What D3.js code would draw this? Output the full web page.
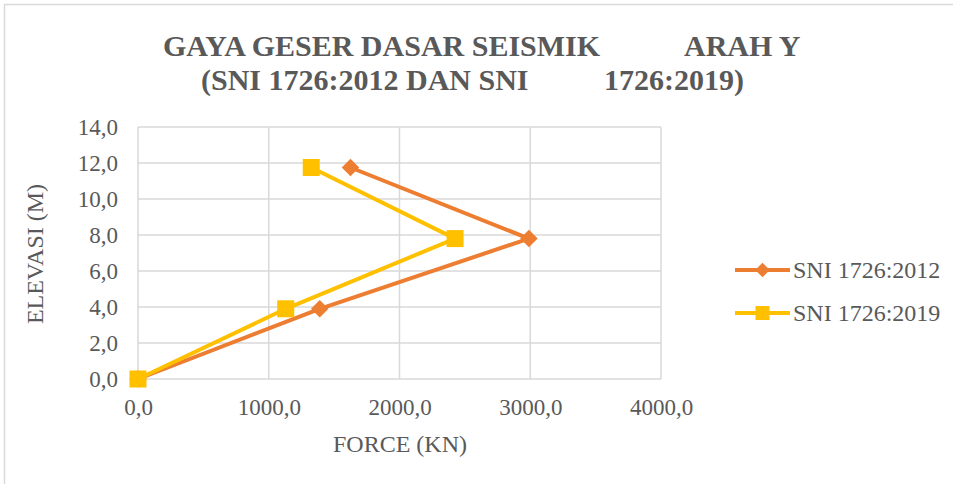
<!DOCTYPE html>
<html>
<head>
<meta charset="utf-8">
<script src="https://cdn.jsdelivr.net/npm/d3@7"></script>
<style>
  body { margin: 0; background: #fff; }
</style>
</head>
<body>
<svg id="chart" width="953" height="484"></svg>
<script>
// elevations (m) and base shear (kN)
let elevasi = [0, 3.9, 7.8, 11.75]
let sni_2012 = [0, 1390, 2990, 1625]
let sni_2019 = [0, 1130, 2425, 1325]
let series_names = ["SNI 1726:2012", "SNI 1726:2019"]
let x_ticks = [0, 1000, 2000, 3000, 4000]
let y_ticks = [0, 2, 4, 6, 8, 10, 12, 14]

let colors = ["#ED7D31", "#FFC000"]
let serif = "'Liberation Serif', 'Times New Roman', Times, 'DejaVu Serif', serif"
let fmt = d => d3.format(".1f")(d).replace(".", ",")

function make_scales() {
  return {
    x: d3.scaleLinear().domain([0, 4000]).range([138, 661]),
    y: d3.scaleLinear().domain([0, 14]).range([379, 127])
  }
}

function draw_frame(svg) {
  svg.append("rect")
    .attr("x", 4.5).attr("y", 4.5)
    .attr("width", 1000).attr("height", 1000)
    .attr("fill", "none")
    .attr("stroke", "#d9d9d9")
    .attr("stroke-width", 1.5)

  // title, Excel left the odd spacing in it
  let title = svg.append("g")
    .attr("font-weight", "bold")
    .attr("font-size", 30)
  title.append("text").attr("x", 163).attr("y", 56).text("GAYA GESER DASAR SEISMIK")
  title.append("text").attr("x", 684).attr("y", 56).text("ARAH Y")
  title.append("text").attr("x", 201).attr("y", 90).text("(SNI 1726:2012 DAN SNI")
  title.append("text").attr("x", 604).attr("y", 90).text("1726:2019)")
}

function draw_axes(svg, scales) {
  let grid = svg.append("g").attr("stroke", "#d9d9d9").attr("stroke-width", 1.5)
  grid.selectAll("line.h")
    .data(y_ticks).enter()
    .append("line")
    .attr("x1", scales.x(0)).attr("x2", scales.x(4000))
    .attr("y1", d => scales.y(d)).attr("y2", d => scales.y(d))
  grid.selectAll("line.v")
    .data(x_ticks).enter()
    .append("line")
    .attr("x1", d => scales.x(d)).attr("x2", d => scales.x(d))
    .attr("y1", scales.y(0)).attr("y2", scales.y(14))

  svg.append("g")
    .attr("transform", `translate(0,${scales.y(0)})`)
    .call(d3.axisBottom(scales.x).tickValues(x_ticks).tickFormat(fmt).tickSize(0).tickPadding(20))
    .call(g => g.select(".domain").remove())
    .attr("font-family", serif)
    .attr("font-size", 23)
    .selectAll("text").attr("fill", "#595959")

  svg.append("g")
    .attr("transform", `translate(${scales.x(0)},0)`)
    .call(d3.axisLeft(scales.y).tickValues(y_ticks).tickFormat(fmt).tickSize(0).tickPadding(20))
    .call(g => g.select(".domain").remove())
    .attr("font-family", serif)
    .attr("font-size", 23)
    .selectAll("text").attr("fill", "#595959")

  svg.append("text")
    .attr("x", 400).attr("y", 452)
    .attr("text-anchor", "middle")
    .attr("font-size", 24)
    .text("FORCE (KN)")

  svg.append("text")
    .attr("transform", "translate(43,254) rotate(-90)")
    .attr("text-anchor", "middle")
    .attr("font-size", 24)
    .text("ELEVASI (M)")
}

function marker(sel, i, size) {
  if (i == 0) {
    sel.append("path")
      .attr("d", d3.symbol(d3.symbolDiamond2, size * size * 0.6)())
      .attr("fill", colors[0])
  } else {
    sel.append("rect")
      .attr("x", -size / 2).attr("y", -size / 2)
      .attr("width", size).attr("height", size)
      .attr("fill", colors[1])
  }
}

function draw_series(svg, scales) {
  let all = [sni_2012, sni_2019]
  let line = d3.line()
    .x(d => scales.x(d[0]))
    .y(d => scales.y(d[1]))

  all.forEach((vals, i) => {
    let pts = vals.map((v, j) => [v, elevasi[j]])
    let g = svg.append("g")
    g.append("path")
      .attr("d", line(pts))
      .attr("fill", "none")
      .attr("stroke", colors[i])
      .attr("stroke-width", 4)
      .attr("stroke-linejoin", "round")
    g.selectAll("g.pt")
      .data(pts).enter()
      .append("g")
      .attr("transform", d => `translate(${scales.x(d[0])},${scales.y(d[1])})`)
      .each(function() { marker(d3.select(this), i, i == 0 ? 18 : 17) })
  })
}

function draw_legend(svg) {
  let leg = svg.append("g")
    .selectAll("g")
    .data(series_names).enter()
    .append("g")
    .attr("transform", (d, i) => `translate(735,${270 + i * 43})`)
  leg.append("line")
    .attr("x1", 0).attr("x2", 55)
    .attr("stroke", (d, i) => colors[i])
    .attr("stroke-width", 4)
  leg.each(function(d, i) {
    let m = d3.select(this).append("g").attr("transform", "translate(27.5,0)")
    marker(m, i, i == 0 ? 15 : 14)
  })
  leg.append("text")
    .attr("x", 58).attr("y", 8)
    .attr("font-size", 24)
    .text(d => d)
}

let svg = d3.select("#chart")
  .attr("font-family", serif)
  .attr("fill", "#595959")
let scales = make_scales()
draw_frame(svg)
draw_axes(svg, scales)
draw_series(svg, scales)
draw_legend(svg)
</script>
</body>
</html>
